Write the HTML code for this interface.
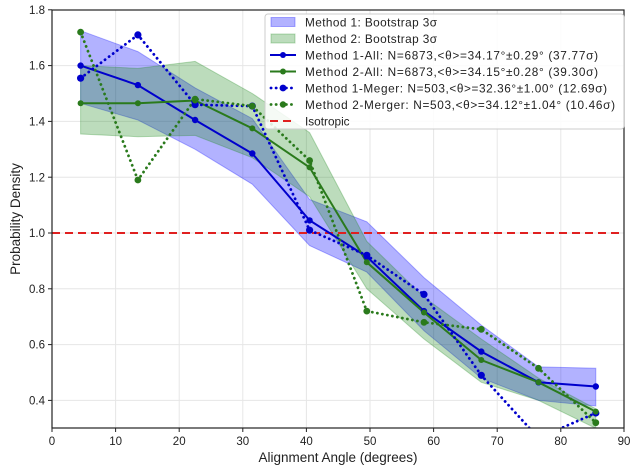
<!DOCTYPE html>
<html><head><meta charset="utf-8"><style>
body{margin:0;background:#fff}
svg{display:block;font-family:"Liberation Sans","DejaVu Sans",sans-serif}
</style></head><body>
<svg width="639" height="470" viewBox="0 0 639 470" xmlns="http://www.w3.org/2000/svg">
<defs><clipPath id="c"><rect x="52" y="10" width="572" height="418"/></clipPath></defs>
<rect width="639" height="470" fill="#fff"/>
<g stroke="#e6e6e6" stroke-width="1">
<line x1="115.6" y1="10" x2="115.6" y2="428"/><line x1="179.2" y1="10" x2="179.2" y2="428"/><line x1="242.8" y1="10" x2="242.8" y2="428"/><line x1="306.4" y1="10" x2="306.4" y2="428"/><line x1="370" y1="10" x2="370" y2="428"/><line x1="433.6" y1="10" x2="433.6" y2="428"/><line x1="497.2" y1="10" x2="497.2" y2="428"/><line x1="560.8" y1="10" x2="560.8" y2="428"/>
<line x1="52" y1="400.4" x2="624" y2="400.4"/><line x1="52" y1="344.6" x2="624" y2="344.6"/><line x1="52" y1="288.8" x2="624" y2="288.8"/><line x1="52" y1="233" x2="624" y2="233"/><line x1="52" y1="177.2" x2="624" y2="177.2"/><line x1="52" y1="121.4" x2="624" y2="121.4"/><line x1="52" y1="65.6" x2="624" y2="65.6"/>
</g>
<g clip-path="url(#c)">
<polygon fill="#0000ff" fill-opacity="0.3" stroke="#0000ff" stroke-opacity="0.3" points="80.6,30.7 137.9,51.6 195.1,87.9 252.3,118.6 309.6,199.5 366.8,221.8 424,277.6 481.3,325.1 538.5,366.9 595.8,368.3 595.8,406 538.5,400.4 481.3,378.1 424,330.7 366.8,272.1 309.6,245.6 252.3,184.2 195.1,149.3 137.9,120 80.6,103.3"/>
<polygon fill="#228b22" fill-opacity="0.3" stroke="#228b22" stroke-opacity="0.3" points="80.6,65.6 137.9,68.4 195.1,61.4 252.3,93.5 309.6,132.6 366.8,241.4 424,297.2 481.3,339 538.5,378.1 595.8,408.8 595.8,428.3 538.5,400.4 481.3,382.3 424,339 366.8,288.8 309.6,196.7 252.3,157.7 195.1,135.4 137.9,136.7 80.6,134"/>
<line x1="52" y1="233" x2="624" y2="233" stroke="#e02020" stroke-width="2" stroke-dasharray="8,5"/>
<g fill="none" stroke-width="2">
<polyline stroke="#0000cc" points="80.6,65.6 137.9,85.1 195.1,120 252.3,153.5 309.6,220.4 366.8,256.7 424,311.1 481.3,351.6 538.5,382.3 595.8,386.5"/>
<polyline stroke="#2a7a1c" points="80.6,103.3 137.9,103.3 195.1,100.5 252.3,128.4 309.6,167.4 366.8,262.3 424,312.5 481.3,360 538.5,382.3 595.8,411.6"/>
<polyline stroke="#0000cc" stroke-dasharray="0.1,5" stroke-width="2.8" stroke-linecap="round" points="80.6,78.2 137.9,34.9 195.1,104.7 252.3,106.1 309.6,230.2 366.8,255.3 424,294.4 481.3,375.3 538.5,438.1 595.8,413"/>
<polyline stroke="#2a7a1c" stroke-dasharray="0.1,5" stroke-width="2.8" stroke-linecap="round" points="80.6,32.1 137.9,180 195.1,99.1 252.3,106.1 309.6,160.5 366.8,311.1 424,322.3 481.3,329.3 538.5,368.3 595.8,422.7"/>
</g>
<g fill="#0000cc">
<circle cx="80.6" cy="65.6" r="3.2"/><circle cx="137.9" cy="85.1" r="3.2"/><circle cx="195.1" cy="120" r="3.2"/><circle cx="252.3" cy="153.5" r="3.2"/><circle cx="309.6" cy="220.4" r="3.2"/><circle cx="366.8" cy="256.7" r="3.2"/><circle cx="424" cy="311.1" r="3.2"/><circle cx="481.3" cy="351.6" r="3.2"/><circle cx="538.5" cy="382.3" r="3.2"/><circle cx="595.8" cy="386.5" r="3.2"/>
<circle cx="80.6" cy="78.2" r="3.6"/><circle cx="137.9" cy="34.9" r="3.6"/><circle cx="195.1" cy="104.7" r="3.6"/><circle cx="252.3" cy="106.1" r="3.6"/><circle cx="309.6" cy="230.2" r="3.6"/><circle cx="366.8" cy="255.3" r="3.6"/><circle cx="424" cy="294.4" r="3.6"/><circle cx="481.3" cy="375.3" r="3.6"/><circle cx="595.8" cy="413" r="3.6"/>
</g>
<g fill="#2a7a1c">
<circle cx="80.6" cy="103.3" r="3"/><circle cx="137.9" cy="103.3" r="3"/><circle cx="195.1" cy="100.5" r="3"/><circle cx="252.3" cy="128.4" r="3"/><circle cx="309.6" cy="167.4" r="3"/><circle cx="366.8" cy="262.3" r="3"/><circle cx="424" cy="312.5" r="3"/><circle cx="481.3" cy="360" r="3"/><circle cx="538.5" cy="382.3" r="3"/><circle cx="595.8" cy="411.6" r="3"/>
<circle cx="80.6" cy="32.1" r="3.4"/><circle cx="137.9" cy="180" r="3.4"/><circle cx="195.1" cy="99.1" r="3.4"/><circle cx="252.3" cy="106.1" r="3.4"/><circle cx="309.6" cy="160.5" r="3.4"/><circle cx="366.8" cy="311.1" r="3.4"/><circle cx="424" cy="322.3" r="3.4"/><circle cx="481.3" cy="329.3" r="3.4"/><circle cx="538.5" cy="368.3" r="3.4"/><circle cx="595.8" cy="422.7" r="3.4"/>
</g>
</g>
<rect x="52" y="10" width="572" height="418" fill="none" stroke="#222" stroke-width="1.2"/>
<g stroke="#222" stroke-width="1">
<line x1="52" y1="428" x2="52" y2="432"/><line x1="115.6" y1="428" x2="115.6" y2="432"/><line x1="179.2" y1="428" x2="179.2" y2="432"/><line x1="242.8" y1="428" x2="242.8" y2="432"/><line x1="306.4" y1="428" x2="306.4" y2="432"/><line x1="370" y1="428" x2="370" y2="432"/><line x1="433.6" y1="428" x2="433.6" y2="432"/><line x1="497.2" y1="428" x2="497.2" y2="432"/><line x1="560.8" y1="428" x2="560.8" y2="432"/><line x1="624" y1="428" x2="624" y2="432"/>
<line x1="48" y1="400.4" x2="52" y2="400.4"/><line x1="48" y1="344.6" x2="52" y2="344.6"/><line x1="48" y1="288.8" x2="52" y2="288.8"/><line x1="48" y1="233" x2="52" y2="233"/><line x1="48" y1="177.2" x2="52" y2="177.2"/><line x1="48" y1="121.4" x2="52" y2="121.4"/><line x1="48" y1="65.6" x2="52" y2="65.6"/><line x1="48" y1="9.8" x2="52" y2="9.8"/>
</g>
<g font-size="11.5" fill="#222" text-anchor="middle">
<text x="52" y="445">0</text><text x="115.6" y="445">10</text><text x="179.2" y="445">20</text><text x="242.8" y="445">30</text><text x="306.4" y="445">40</text><text x="370" y="445">50</text><text x="433.6" y="445">60</text><text x="497.2" y="445">70</text><text x="560.8" y="445">80</text><text x="624" y="445">90</text>
</g>
<g font-size="11.5" fill="#222" text-anchor="end">
<text x="45" y="404.5">0.4</text><text x="45" y="348.7">0.6</text><text x="45" y="292.9">0.8</text><text x="45" y="237.1">1.0</text><text x="45" y="181.3">1.2</text><text x="45" y="125.5">1.4</text><text x="45" y="69.7">1.6</text><text x="45" y="13.9">1.8</text>
</g>
<text x="338" y="462" font-size="13.5" fill="#222" text-anchor="middle">Alignment Angle (degrees)</text>
<text transform="translate(20,219) rotate(-90)" font-size="13.5" fill="#222" text-anchor="middle">Probability Density</text>
<rect x="265" y="14" width="359" height="115" rx="3" fill="#fff" fill-opacity="0.85" stroke="#ccc"/>
<g font-size="11.8" fill="#222">
<rect x="271" y="17.5" width="24" height="9" fill="#0000ff" fill-opacity="0.3" stroke="#0000ff" stroke-opacity="0.3"/>
<text x="305" y="26.5" textLength="132">Method 1: Bootstrap 3σ</text>
<rect x="271" y="34" width="24" height="9" fill="#228b22" fill-opacity="0.3" stroke="#228b22" stroke-opacity="0.3"/>
<text x="305" y="43" textLength="132">Method 2: Bootstrap 3σ</text>
<line x1="270" y1="55" x2="296" y2="55" stroke="#0000cc" stroke-width="2"/><circle cx="283" cy="55" r="3" fill="#0000cc"/>
<text x="305" y="59.5" textLength="293">Method 1-All: N=6873,&lt;θ&gt;=34.17°±0.29° (37.77σ)</text>
<line x1="270" y1="71.5" x2="296" y2="71.5" stroke="#2a7a1c" stroke-width="2"/><circle cx="283" cy="71.5" r="3" fill="#2a7a1c"/>
<text x="305" y="76" textLength="293">Method 2-All: N=6873,&lt;θ&gt;=34.15°±0.28° (39.30σ)</text>
<line x1="271" y1="88" x2="296" y2="88" stroke="#0000cc" stroke-width="2.8" stroke-dasharray="0.1,5" stroke-linecap="round"/><circle cx="283" cy="88" r="3.4" fill="#0000cc"/>
<text x="305" y="92.5" textLength="302">Method 1-Meger: N=503,&lt;θ&gt;=32.36°±1.00° (12.69σ)</text>
<line x1="271" y1="104.5" x2="296" y2="104.5" stroke="#2a7a1c" stroke-width="2.8" stroke-dasharray="0.1,5" stroke-linecap="round"/><circle cx="283" cy="104.5" r="3.2" fill="#2a7a1c"/>
<text x="305" y="109" textLength="310">Method 2-Merger: N=503,&lt;θ&gt;=34.12°±1.04° (10.46σ)</text>
<line x1="270" y1="121" x2="296" y2="121" stroke="#e02020" stroke-width="2" stroke-dasharray="8,5"/>
<text x="305" y="125.5">Isotropic</text>
</g>
</svg>
</body></html>
